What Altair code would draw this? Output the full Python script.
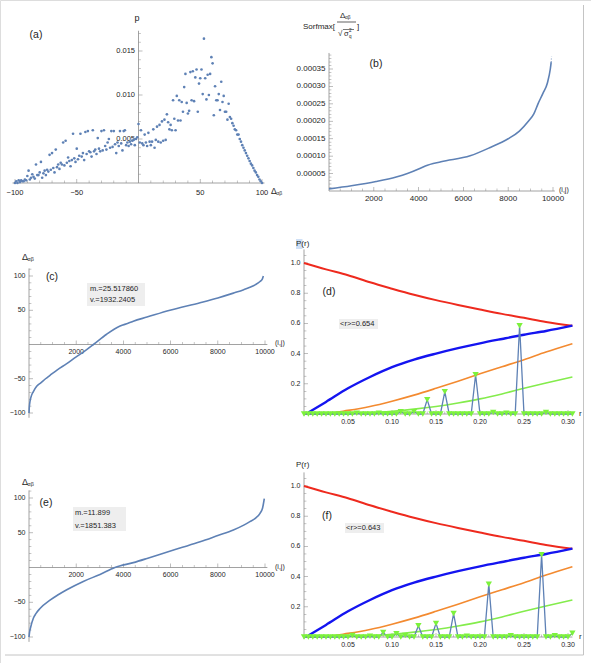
import altair as alt
import pandas as pd
import numpy as np

FONT = "Liberation Sans"
AXIS_COLOR = "#8a8a8a"
TEXT_COLOR = "#1e1e1e"
DATA_BLUE = "#5e81b5"
RED = "#ee2a1e"
BLUE = "#1414f0"
ORANGE = "#f38a30"
GREEN = "#84ec4c"
MARKER_GREEN = "#7cf23c"

# ---------------- data ----------------
# (a) distribution of Delta_ab
delta_a = list(range(-100, 101))
p_a = [
    0.0000, 0.0002, 0.0000, 0.0003, 0.0001, 0.0003, 0.0002, 0.0002, 0.0004, 0.0003,
    0.0008, 0.0014, 0.0004, 0.0006, 0.0010, 0.0007, 0.0005, 0.0021, 0.0009, 0.0009,
    0.0012, 0.0024, 0.0006, 0.0011, 0.0014, 0.0009, 0.0015, 0.0013, 0.0032, 0.0015,
    0.0034, 0.0017, 0.0012, 0.0038, 0.0018, 0.0021, 0.0016, 0.0023, 0.0021, 0.0046,
    0.0020, 0.0048, 0.0023, 0.0029, 0.0025, 0.0019, 0.0026, 0.0056, 0.0028, 0.0024,
    0.0039, 0.0027, 0.0031, 0.0056, 0.0030, 0.0034, 0.0026, 0.0058, 0.0033, 0.0059,
    0.0036, 0.0035, 0.0030, 0.0060, 0.0036, 0.0038, 0.0033, 0.0051, 0.0039, 0.0036,
    0.0059, 0.0037, 0.0060, 0.0042, 0.0038, 0.0046, 0.0050, 0.0040, 0.0059, 0.0041,
    0.0059, 0.0044, 0.0034, 0.0046, 0.0042, 0.0059, 0.0045, 0.0037, 0.0059, 0.0060,
    0.0043, 0.0046, 0.0042, 0.0047, 0.0044, 0.0048, 0.0049, 0.0043, 0.0050, 0.0052,
    0.0067, 0.0046, 0.0060, 0.0045, 0.0043, 0.0055, 0.0046, 0.0042, 0.0057, 0.0047,
    0.0043, 0.0047, 0.0061, 0.0040, 0.0049, 0.0064, 0.0047, 0.0066, 0.0046, 0.0070,
    0.0048, 0.0072, 0.0049, 0.0078, 0.0069, 0.0061, 0.0066, 0.0060, 0.0094, 0.0073,
    0.0060, 0.0099, 0.0071, 0.0094, 0.0071, 0.0092, 0.0081, 0.0109, 0.0124, 0.0091,
    0.0079, 0.0082, 0.0126, 0.0094, 0.0127, 0.0093, 0.0120, 0.0129, 0.0081, 0.0113,
    0.0119, 0.0129, 0.0101, 0.0164, 0.0119, 0.0095, 0.0123, 0.0100, 0.0124, 0.0143,
    0.0136, 0.0077, 0.0110, 0.0094, 0.0094, 0.0101, 0.0083, 0.0115, 0.0092, 0.0099,
    0.0081, 0.0081, 0.0072, 0.0090, 0.0075, 0.0073, 0.0068, 0.0065, 0.0061, 0.0060,
    0.0055, 0.0055, 0.0050, 0.0047, 0.0043, 0.0040, 0.0037, 0.0034, 0.0031, 0.0028,
    0.0025, 0.0022, 0.0020, 0.0017, 0.0014, 0.0012, 0.0009, 0.0007, 0.0004, 0.0002,
    0.0000,
]

# (b) sorted softmax values
rank_b = [0, 1000, 2100, 3000, 3500, 4000, 4300, 5000, 6300, 7200, 8000, 8500,
          8900, 9150, 9330, 9550, 9750, 9880, 9920]
sorf_b = [0.000006, 0.000015, 0.000027, 0.000040, 0.000050, 0.000063, 0.000072,
          0.000084, 0.000101, 0.000125, 0.000150, 0.000172, 0.000200, 0.000222,
          0.000250, 0.000280, 0.000310, 0.000350, 0.000370]
rank_b_tail = [9920, 9935]
sorf_b_tail = [0.000370, 0.000385]

# (c) sorted Delta_ab
rank_c = [0, 10, 30, 60, 100, 180, 325, 500, 700, 890, 1200, 1600, 2000, 2300, 2730,
          3290, 3860, 4200, 4420, 5000, 5970, 7250, 8000, 8660, 9100, 9360, 9600,
          9790, 9880, 9930]
delta_c = [-100, -93, -86, -80, -75, -69, -61, -56, -50, -45, -37, -28, -18, -11, 0,
           15, 27, 31, 34, 40, 50, 61, 68, 75, 80, 83.5, 87.5, 92, 95, 100]

# (e) sorted Delta_ab
rank_e = [0, 20, 70, 184, 300, 466, 890, 1200, 1600, 2300, 3010, 3640, 4420, 5000,
          5830, 6500, 7250, 8000, 8660, 9100, 9360, 9600, 9790, 9900, 9970]
delta_e = [-100, -94, -86, -73, -66, -59, -47, -40, -32, -20, -10, 0, 7, 13, 22, 29,
           37, 46, 54, 61, 66, 71, 78, 86, 99]

# (d),(f) theoretical curves
r_red = [0.0, 0.025, 0.05, 0.075, 0.1, 0.125, 0.15, 0.175, 0.2, 0.225, 0.25, 0.275, 0.305]
p_red = [1.0, 0.958, 0.919, 0.872, 0.83, 0.79, 0.754, 0.722, 0.692, 0.663, 0.637, 0.61, 0.585]
r_blue = [0.005, 0.025, 0.05, 0.075, 0.1, 0.125, 0.15, 0.175, 0.2, 0.225, 0.25, 0.275, 0.305]
p_blue = [0.01, 0.08, 0.17, 0.245, 0.31, 0.36, 0.40, 0.436, 0.468, 0.497, 0.525, 0.55, 0.585]
r_orange = [0.0, 0.025, 0.05, 0.075, 0.1, 0.125, 0.15, 0.175, 0.2, 0.225, 0.25, 0.275, 0.305]
p_orange = [0.0, 0.004, 0.024, 0.05, 0.085, 0.125, 0.17, 0.217, 0.266, 0.313, 0.36, 0.41, 0.465]
r_green = [0.0, 0.05, 0.075, 0.1, 0.125, 0.15, 0.175, 0.2, 0.225, 0.25, 0.275, 0.305]
p_green = [0.0, 0.003, 0.008, 0.018, 0.032, 0.05, 0.073, 0.10, 0.133, 0.17, 0.205, 0.245]

# (d),(f) measured histograms (bins of width 0.005 from r = 0)
r_hist = [round(0.005 * i, 3) for i in range(62)]
p_hist_d = [
    0, 0, 0, 0, 0, 0, 0, 0, 0, 0,
    0, 0, 0.005, 0, 0, 0, 0, 0.005, 0, 0,
    0, 0, 0.015, 0, 0, 0.015, 0, 0, 0.095, 0,
    0, 0, 0.148, 0, 0, 0, 0, 0, 0, 0.26,
    0, 0, 0, 0.01, 0, 0, 0.005, 0, 0, 0.585,
    0, 0, 0, 0, 0, 0.01, 0, 0, 0, 0,
    0, 0,
]
p_hist_f = [
    0, 0, 0, 0, 0, 0, 0, 0, 0, 0,
    0, 0.01, 0, 0, 0, 0.005, 0, 0, 0.03, 0,
    0, 0.022, 0, 0.01, 0, 0, 0.075, 0, 0, 0,
    0.09, 0, 0, 0, 0.155, 0, 0, 0.005, 0, 0,
    0, 0, 0.35, 0, 0, 0, 0, 0.008, 0, 0,
    0, 0, 0, 0, 0.545, 0, 0, 0.008, 0, 0,
    0, 0.025,
]

# tick labels
ticks_a_x = [-100, -50, 50, 100]
labels_a_x = ["\u2212100", "\u221250", "50", "100"]
ticks_a_y = [0.005, 0.010, 0.015]
labels_a_y = ["0.005", "0.010", "0.015"]
ticks_rank = [2000, 4000, 6000, 8000, 10000]
labels_rank = ["2000", "4000", "6000", "8000", "10000"]
ticks_b_y = [0.00005, 0.00010, 0.00015, 0.00020, 0.00025, 0.00030, 0.00035]
labels_b_y = ["0.00005", "0.00010", "0.00015", "0.00020", "0.00025", "0.00030", "0.00035"]
ticks_ce_y = [-100, -50, 50, 100]
labels_ce_y = ["\u2212100", "\u221250", "50", "100"]
ticks_r = [0.05, 0.10, 0.15, 0.20, 0.25, 0.30]
labels_r = ["0.05", "0.10", "0.15", "0.20", "0.25", "0.30"]
ticks_p = [0.2, 0.4, 0.6, 0.8, 1.0]
labels_p = ["0.2", "0.4", "0.6", "0.8", "1.0"]


# ---------------- helpers ----------------
def lscale(d, r):
    return alt.Scale(domain=d, range=r, nice=False, zero=False)


class Panel:
    def __init__(self, xd, xr, yd, yr):
        self.sx = lscale(xd, xr)
        self.sy = lscale(yd, yr)

    def x(self, f):
        return alt.X(f, type="quantitative", scale=self.sx, axis=None)

    def y(self, f):
        return alt.Y(f, type="quantitative", scale=self.sy, axis=None)


def minor(lo, hi, step, majors):
    vals = np.round(np.arange(lo, hi + step / 2, step), 8)
    return [float(v) for v in vals if all(abs(v - m) > step / 10 for m in majors) and abs(v) > step / 10]


def axis_layers(P, xline, yline, x0, y0, xmaj, xlab, xmin, ymaj, ylab, ymin,
                fsize=7.5, xdy=8, ydx=-3.5):
    L = []
    L.append(alt.Chart(pd.DataFrame({"a": [xline[0]], "b": [xline[1]], "c": [y0]}))
             .mark_rule(color=AXIS_COLOR, strokeWidth=0.8)
             .encode(x=P.x("a"), x2="b", y=P.y("c")))
    L.append(alt.Chart(pd.DataFrame({"a": [x0], "b": [yline[0]], "c": [yline[1]]}))
             .mark_rule(color=AXIS_COLOR, strokeWidth=0.8)
             .encode(x=P.x("a"), y=P.y("b"), y2="c"))
    # x ticks
    L.append(alt.Chart(pd.DataFrame({"v": xmaj, "c": [y0] * len(xmaj)}))
             .mark_tick(orient="vertical", thickness=0.8, yOffset=-2, color=AXIS_COLOR)
             .encode(x=P.x("v"), y=P.y("c"), size=alt.value(4)))
    L.append(alt.Chart(pd.DataFrame({"v": xmin, "c": [y0] * len(xmin)}))
             .mark_tick(orient="vertical", thickness=0.7, yOffset=-1.2, color=AXIS_COLOR)
             .encode(x=P.x("v"), y=P.y("c"), size=alt.value(2.4)))
    L.append(alt.Chart(pd.DataFrame({"v": xmaj, "c": [y0] * len(xmaj), "t": xlab}))
             .mark_text(dy=xdy, fontSize=fsize, font=FONT, color=TEXT_COLOR,
                        align="center", baseline="middle")
             .encode(x=P.x("v"), y=P.y("c"), text="t:N"))
    # y ticks
    L.append(alt.Chart(pd.DataFrame({"v": ymaj, "c": [x0] * len(ymaj)}))
             .mark_tick(orient="horizontal", thickness=0.8, xOffset=2, color=AXIS_COLOR)
             .encode(y=P.y("v"), x=P.x("c"), size=alt.value(4)))
    L.append(alt.Chart(pd.DataFrame({"v": ymin, "c": [x0] * len(ymin)}))
             .mark_tick(orient="horizontal", thickness=0.7, xOffset=1.2, color=AXIS_COLOR)
             .encode(y=P.y("v"), x=P.x("c"), size=alt.value(2.4)))
    L.append(alt.Chart(pd.DataFrame({"v": ymaj, "c": [x0] * len(ymaj), "t": ylab}))
             .mark_text(dx=ydx, fontSize=fsize, font=FONT, color=TEXT_COLOR,
                        align="right", baseline="middle")
             .encode(y=P.y("v"), x=P.x("c"), text="t:N"))
    return L


def txt(s, x, y, size=8, align="left", weight="normal", color=TEXT_COLOR, style="normal"):
    return (alt.Chart(pd.DataFrame({"t": [s]}))
            .mark_text(align=align, baseline="middle", fontSize=size, font=FONT,
                       fontWeight=weight, color=color, fontStyle=style)
            .encode(x=alt.value(x), y=alt.value(y), text="t:N"))


def box(x1, x2, y1, y2, color):
    return (alt.Chart(pd.DataFrame({"k": [0]}))
            .mark_rect(color=color)
            .encode(x=alt.value(x1), x2=alt.value(x2), y=alt.value(y1), y2=alt.value(y2)))


def hline(x1, x2, y, color, w=0.8):
    return (alt.Chart(pd.DataFrame({"k": [0]}))
            .mark_rule(color=color, strokeWidth=w)
            .encode(x=alt.value(x1), x2=alt.value(x2), y=alt.value(y)))


def vline(x, y1, y2, color, w=0.8):
    return (alt.Chart(pd.DataFrame({"k": [0]}))
            .mark_rule(color=color, strokeWidth=w)
            .encode(x=alt.value(x), y=alt.value(y1), y2=alt.value(y2)))


def delta_label(x, y, size=9):
    return [txt("\u0394", x, y, size=size), txt("\u03b1\u03b2", x + size * 0.62, y + 2, size=size * 0.6)]


layers = []

# ---------------- panel (a) ----------------
PA = Panel([-100, 100], [15, 262], [0, 0.015], [183, 51])
layers += axis_layers(PA, [-102, 102], [0, 0.0173], 0, 0,
                      ticks_a_x, labels_a_x, minor(-90, 90, 10, ticks_a_x),
                      ticks_a_y, labels_a_y, minor(0.001, 0.017, 0.001, ticks_a_y),
                      fsize=7.5, xdy=10)
layers.append(alt.Chart(pd.DataFrame({"d": delta_a, "p": p_a}))
              .mark_circle(color=DATA_BLUE, opacity=1, size=7)
              .encode(x=PA.x("d"), y=PA.y("p")))
layers.append(txt("(a)", 36, 35, size=10.5, align="center"))
layers.append(txt("p", 137, 18, size=9, align="center"))
layers += delta_label(271, 191, size=8.5)

# ---------------- panel (b) ----------------
PB = Panel([0, 10000], [329, 553], [0, 0.00035], [191, 69])
layers += axis_layers(PB, [0, 10080], [0, 0.000396], 0, 0,
                      ticks_rank, labels_rank, minor(500, 9500, 500, ticks_rank),
                      ticks_b_y, labels_b_y, minor(0.00001, 0.00039, 0.00001, ticks_b_y),
                      fsize=8, xdy=8)
layers.append(alt.Chart(pd.DataFrame({"k": rank_b, "s": sorf_b}))
              .mark_line(color=DATA_BLUE, strokeWidth=1.6, interpolate="monotone")
              .encode(x=PB.x("k"), y=PB.y("s")))
layers.append(alt.Chart(pd.DataFrame({"k": rank_b_tail, "s": sorf_b_tail}))
              .mark_line(color=DATA_BLUE, strokeWidth=1.2, strokeDash=[1, 1.5], opacity=0.7)
              .encode(x=PB.x("k"), y=PB.y("s")))
layers.append(txt("(b)", 376, 64, size=10.5, align="center"))
layers.append(txt("(i,j)", 559, 190, size=7))
layers.append(txt("Sorfmax[", 335, 27, size=8, align="right"))
layers += delta_label(340, 16, size=8)
layers.append(hline(337, 356, 22, TEXT_COLOR, 0.7))
layers.append(txt("\u221a", 338, 34, size=8))
layers.append(hline(343, 354, 29.5, TEXT_COLOR, 0.6))
layers.append(txt("\u03c3", 344, 34, size=7.5))
layers.append(txt("2", 349, 31, size=4.5))
layers.append(txt("q", 349, 37, size=4.5))
layers.append(txt("]", 357, 27, size=8))

# ---------------- panel (c) ----------------
PC = Panel([0, 10000], [29, 265], [-100, 100], [413, 276])
layers += axis_layers(PC, [0, 10100], [-107, 111], 0, 0,
                      ticks_rank, labels_rank, minor(500, 9500, 500, ticks_rank),
                      ticks_ce_y, labels_ce_y, minor(-100, 110, 10, ticks_ce_y),
                      fsize=7, xdy=7)
layers.append(alt.Chart(pd.DataFrame({"k": rank_c, "d": delta_c}))
              .mark_line(color=DATA_BLUE, strokeWidth=1.6, interpolate="monotone")
              .encode(x=PC.x("k"), y=PC.y("d")))
layers += delta_label(22, 257, size=9)
layers.append(txt("(c)", 52, 277, size=10.5, align="center"))
layers.append(box(87, 145, 283, 306, "#eeeeee"))
layers.append(txt("m.=25.517860", 90, 289, size=7.5))
layers.append(txt("v.=1932.2405", 90, 300, size=7.5))
layers.append(txt("(i,j)", 275, 343, size=7))

# ---------------- panel (e) ----------------
PE = Panel([0, 10000], [29, 265], [-100, 100], [637, 498])
layers += axis_layers(PE, [0, 10100], [-107, 111], 0, 0,
                      ticks_rank, labels_rank, minor(500, 9500, 500, ticks_rank),
                      ticks_ce_y, labels_ce_y, minor(-100, 110, 10, ticks_ce_y),
                      fsize=7, xdy=7)
layers.append(alt.Chart(pd.DataFrame({"k": rank_e, "d": delta_e}))
              .mark_line(color=DATA_BLUE, strokeWidth=1.6, interpolate="monotone")
              .encode(x=PE.x("k"), y=PE.y("d")))
layers += delta_label(22, 482, size=9)
layers.append(txt("(e)", 46, 503, size=10.5, align="center"))
layers.append(box(73, 126, 507, 531, "#eeeeee"))
layers.append(txt("m.=11.899", 75, 513, size=7.5))
layers.append(txt("v.=1851.383", 75, 526, size=7.5))
layers.append(txt("(i,j)", 275, 567, size=7))


# ---------------- panels (d) and (f) ----------------
def ratio_panel(P, p_hist, tag, tag_xy, rtext, rbox, y_axis0):
    L = axis_layers(P, [0, 0.305], [-0.012, 1.09], 0, 0,
                    ticks_r, labels_r, minor(0.01, 0.30, 0.01, ticks_r),
                    ticks_p, labels_p, minor(0.05, 1.05, 0.05, ticks_p),
                    fsize=7, xdy=8)
    for rr, pp, col, w in [(r_red, p_red, RED, 2.0), (r_blue, p_blue, BLUE, 2.4),
                           (r_orange, p_orange, ORANGE, 1.6), (r_green, p_green, GREEN, 1.6)]:
        L.append(alt.Chart(pd.DataFrame({"r": rr, "p": pp}))
                 .mark_line(color=col, strokeWidth=w, interpolate="monotone")
                 .encode(x=P.x("r"), y=P.y("p")))
    hist = pd.DataFrame({"r": r_hist, "p": p_hist})
    L.append(alt.Chart(hist).mark_line(color=DATA_BLUE, strokeWidth=1.3)
             .encode(x=P.x("r"), y=P.y("p")))
    L.append(alt.Chart(hist).mark_point(shape="triangle-down", filled=True, opacity=1,
                                        color=MARKER_GREEN, size=40)
             .encode(x=P.x("r"), y=P.y("p")))
    L.append(txt(tag, tag_xy[0], tag_xy[1], size=10.5, align="center"))
    L.append(box(rbox[0], rbox[1], rbox[2], rbox[3], "#eeeeee"))
    L.append(txt(rtext, rbox[0] + 1, (rbox[2] + rbox[3]) / 2, size=7.5))
    L.append(txt("r", 579, y_axis0, size=8))
    return L


PD = Panel([0, 0.3], [304, 568], [0, 1], [414, 263])
layers.append(box(296, 302.5, 239, 249, "#cfe0f6"))
layers += ratio_panel(PD, p_hist_d, "(d)", (329, 292), "<r>=0.654", (339, 378, 319, 329), 414)
layers.append(txt("P(r)", 296, 244, size=8))

PF = Panel([0, 0.3], [304, 568], [0, 1], [637, 486])
layers += ratio_panel(PF, p_hist_f, "(f)", (327, 516), "<r>=0.643", (345, 384, 523, 533), 637)
layers.append(txt("P(r)", 296, 465, size=8))

# ---------------- frame lines ----------------
layers.append(vline(583.5, 5, 655, "#c4c4c4", 1))
layers.append(hline(5, 583.5, 655, "#c4c4c4", 1))

chart = (alt.layer(*layers)
         .resolve_scale(x="independent", y="independent")
         .properties(width=591, height=663, autosize=alt.AutoSizeParams(type="none"), padding=0)
         .configure_view(stroke=None)
         .configure(background="white"))

chart.save("out.html", embed_options={"renderer": "svg", "actions": False})
